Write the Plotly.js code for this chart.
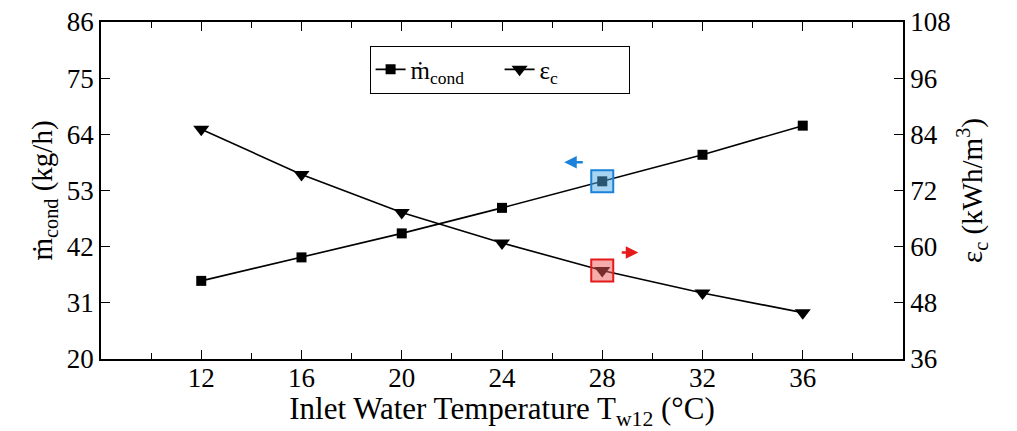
<!DOCTYPE html>
<html><head><meta charset="utf-8">
<script src="https://cdn.plot.ly/plotly-3.0.1.min.js"></script>
<style>html,body{margin:0;padding:0;background:#fff}#c{width:1017px;height:431px}</style>
</head><body><div id="c"></div>
<script>
const temps = [12, 16, 20, 24, 28, 32, 36];
const mCond = [35.3, 39.9, 44.6, 49.6, 54.8, 60.0, 65.7];
const epsC = [85.1, 75.4, 67.3, 60.8, 54.9, 50.1, 45.9];
const xTicks = [12, 16, 20, 24, 28, 32, 36];
const yLeftTicks = [20, 31, 42, 53, 64, 75, 86];
const yRightTicks = [36, 48, 60, 72, 84, 96, 108];
const highlightT = 28;

const F = "'Liberation Serif', 'Times New Roman', Times, serif";
const hiIdx = temps.indexOf(highlightT);

const traces = [
  {x: temps, y: mCond, name: 'ṁ<sub>cond</sub>', type: 'scatter', mode: 'lines+markers',
   line: {color: '#000', width: 1.6}, marker: {symbol: 'square', size: 10, color: '#000'}, yaxis: 'y'},
  {x: temps, y: epsC, name: 'ε<sub>c</sub>', type: 'scatter', mode: 'lines+markers',
   line: {color: '#000', width: 1.6}, marker: {symbol: 'triangle-down', size: 14, color: '#000'}, yaxis: 'y2'}
];

const axisBase = {showline: true, linecolor: '#000', linewidth: 1.6, ticks: 'inside', ticklen: 9,
  tickwidth: 1.4, tickcolor: '#000', showgrid: false, zeroline: false,
  tickfont: {family: F, size: 27, color: '#000'}};

const layout = {
  width: 1017, height: 431,
  margin: {l: 101, r: 114, t: 22, b: 72},
  paper_bgcolor: '#fff', plot_bgcolor: '#fff',
  font: {family: F, color: '#000'},
  showlegend: true,
  legend: {orientation: 'h', x: 0.497, xanchor: 'center', y: 0.93, yanchor: 'top',
    bordercolor: '#000', borderwidth: 1, bgcolor: '#fff', entrywidth: 84, entrywidthmode: 'pixels',
    font: {family: F, size: 25, color: '#000'}, tracegroupgap: 0},
  xaxis: Object.assign({}, axisBase, {range: [8, 40], tickvals: xTicks, mirror: 'ticks', ticklabelstandoff: -6,
    minor: {dtick: 2, tick0: 0, ticks: 'inside', ticklen: 6, tickwidth: 1.4, tickcolor: '#000'},
    title: {text: 'Inlet Water Temperature T<sub>w12</sub> (°C)', font: {family: F, size: 31, color: '#000'}, standoff: 6}}),
  yaxis: Object.assign({}, axisBase, {range: [20, 86], tickvals: yLeftTicks,
    title: {text: 'ṁ<sub>cond</sub> (kg/h)', font: {family: F, size: 29, color: '#000'}, standoff: 6}}),
  yaxis2: Object.assign({}, axisBase, {range: [36, 108], tickvals: yRightTicks, overlaying: 'y', side: 'right',
    title: {text: 'ε<sub>c</sub> (kWh/m<sup>3</sup>)', font: {family: F, size: 29, color: '#000'}, standoff: 12}}),
  shapes: [
    {type: 'rect', xref: 'x', yref: 'y', xsizemode: 'pixel', ysizemode: 'pixel',
     xanchor: temps[hiIdx], yanchor: mCond[hiIdx], x0: -11, x1: 11, y0: -11, y1: 11,
     fillcolor: 'rgba(80,170,225,0.5)', line: {color: '#1a82d8', width: 2}, layer: 'above'},
    {type: 'rect', xref: 'x', yref: 'y2', xsizemode: 'pixel', ysizemode: 'pixel',
     xanchor: temps[hiIdx], yanchor: epsC[hiIdx], x0: -11, x1: 11, y0: -11, y1: 11,
     fillcolor: 'rgba(240,90,90,0.5)', line: {color: '#e51b1b', width: 2}, layer: 'above'}
  ],
  annotations: [
    {xref: 'x', yref: 'y', x: temps[hiIdx], y: mCond[hiIdx], text: '', showarrow: true,
     ax: 20, ay: 0, xshift: -38, yshift: 19,
     arrowcolor: '#1a82d8', arrowhead: 2, arrowsize: 1, arrowwidth: 2.5, standoff: 0, startstandoff: 0},
    {xref: 'x', yref: 'y2', x: temps[hiIdx], y: epsC[hiIdx], text: '', showarrow: true,
     ax: -18, ay: 0, xshift: 36, yshift: 18,
     arrowcolor: '#e51b1b', arrowhead: 2, arrowsize: 1, arrowwidth: 2.5, standoff: 0, startstandoff: 0}
  ]
};

Plotly.newPlot('c', traces, layout, {displayModeBar: false});
</script></body></html>
